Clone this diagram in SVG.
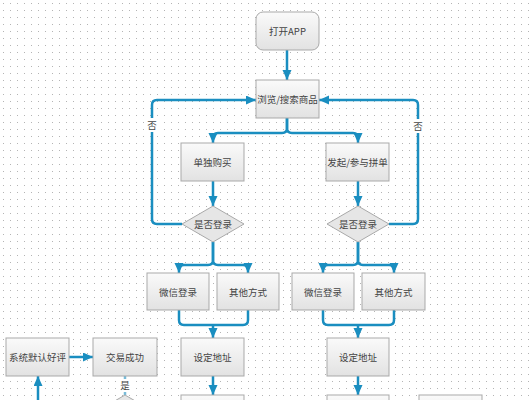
<svg xmlns="http://www.w3.org/2000/svg" width="531" height="400" viewBox="0 0 531 400">
<defs>
<pattern id="dots" width="7" height="7" patternUnits="userSpaceOnUse">
<rect x="3" y="3" width="1" height="1" fill="#b4b4b4"/>
</pattern>
<linearGradient id="boxg" x1="0" y1="0" x2="0" y2="1">
<stop offset="0" stop-color="#fafafa"/>
<stop offset="1" stop-color="#e2e2e2"/>
</linearGradient>
<marker id="arr" markerUnits="userSpaceOnUse" markerWidth="12" markerHeight="10" refX="10" refY="4.5" orient="auto">
<path d="M0,0 L10,4.5 L0,9 z" fill="#1a8ec0"/>
</marker>
</defs>
<style>
.box{fill:url(#boxg);stroke:#a9a9a9;stroke-width:1}
.dia{fill:#e6e6e6;stroke:#a9a9a9;stroke-width:1}
.t{font-family:"Noto Sans CJK SC","Liberation Sans",sans-serif;font-size:9.5px;fill:#444;text-anchor:middle;dominant-baseline:central}
.c{fill:none;stroke:#1a8ec0;stroke-width:2.5}
.a{marker-end:url(#arr)}
.lbl{fill:#fff}
</style>
<rect width="531" height="400" fill="#fff"/>
<rect width="531" height="400" fill="url(#dots)"/>

<g id="connectors">
<path class="c a" d="M287,50 V80"/>
<path class="c a" d="M287,118 V128 Q287,133 282,133 H218 Q213,133 213,138 V143"/>
<path class="c a" d="M287,118 V128 Q287,133 292,133 H353 Q358,133 358,138 V143"/>
<path class="c a" d="M213,181 V206"/>
<path class="c a" d="M358,181 V206"/>
<path class="c a" d="M182,224 H157 Q152,224 152,219 V105 Q152,100 157,100 H256"/>
<path class="c a" d="M389,224 H413 Q418,224 418,219 V105 Q418,100 413,100 H319"/>
<path class="c a" d="M213,242 V260 Q213,265 208,265 H184 Q179,265 179,270 V273"/>
<path class="c a" d="M213,242 V260 Q213,265 218,265 H243 Q248,265 248,270 V273"/>
<path class="c" d="M179,310 V320 Q179,325 184,325 H243 Q248,325 248,320 V310"/>
<path class="c a" d="M213,325 V338"/>
<path class="c a" d="M213,376 V395"/>
<path class="c a" d="M358,242 V260 Q358,265 353,265 H328 Q323,265 323,270 V273"/>
<path class="c a" d="M358,242 V260 Q358,265 363,265 H389 Q394,265 394,270 V273"/>
<path class="c" d="M323,310 V320 Q323,325 328,325 H389 Q394,325 394,320 V310"/>
<path class="c a" d="M358,325 V338"/>
<path class="c a" d="M358,376 V395"/>
<path class="c a" d="M69,357 H93"/>
<path class="c a" d="M38,400 V376"/>
<path class="c" d="M125,395 V376" stroke-width="1.5" opacity="0.6"/>
<rect class="lbl" x="146" y="118" width="12" height="14"/>
<text class="t" x="152" y="125">否</text>
<rect class="lbl" x="412" y="119" width="12" height="14"/>
<text class="t" x="418" y="126">否</text>
<rect class="lbl" x="119" y="379" width="12" height="13"/>
<text class="t" x="125" y="385">是</text>
</g>

<g id="n-open"><rect class="box" x="256" y="12" width="63" height="38" rx="7"/><text class="t" x="287.5" y="31">打开APP</text></g>
<g id="n-browse"><rect class="box" x="256" y="80" width="63" height="38"/><text class="t" x="287.5" y="99">浏览/搜索商品</text></g>
<g id="n-single"><rect class="box" x="181" y="143" width="63" height="38"/><text class="t" x="212.5" y="162">单独购买</text></g>
<g id="n-group"><rect class="box" x="326" y="143" width="63" height="38"/><text class="t" x="357.5" y="162">发起/参与拼单</text></g>
<g id="n-login1"><polygon class="dia" points="213,206 244,224 213,242 182,224"/><text class="t" x="213" y="224">是否登录</text></g>
<g id="n-login2"><polygon class="dia" points="358,206 389,224 358,242 327,224"/><text class="t" x="358" y="224">是否登录</text></g>
<g id="n-wx1"><rect class="box" x="147" y="273" width="62" height="37"/><text class="t" x="178" y="291.5">微信登录</text></g>
<g id="n-oth1"><rect class="box" x="217" y="273" width="62" height="37"/><text class="t" x="248" y="291.5">其他方式</text></g>
<g id="n-wx2"><rect class="box" x="292" y="273" width="62" height="37"/><text class="t" x="323" y="291.5">微信登录</text></g>
<g id="n-oth2"><rect class="box" x="362" y="273" width="63" height="37"/><text class="t" x="393.5" y="291.5">其他方式</text></g>
<g id="n-addr1"><rect class="box" x="181" y="338" width="63" height="38"/><text class="t" x="212.5" y="357">设定地址</text></g>
<g id="n-addr2"><rect class="box" x="327" y="338" width="62" height="38"/><text class="t" x="358" y="357">设定地址</text></g>
<g id="n-default"><rect class="box" x="6" y="338" width="63" height="38"/><text class="t" x="37.5" y="357">系统默认好评</text></g>
<g id="n-success"><rect class="box" x="93" y="338" width="64" height="38"/><text class="t" x="125" y="357">交易成功</text></g>
<g id="n-b1"><rect class="box" x="181" y="395" width="63" height="38"/></g>
<g id="n-b2"><rect class="box" x="327" y="395" width="62" height="38"/></g>
<g id="n-b3"><rect class="box" x="419" y="395" width="63" height="38"/></g>
<g id="n-bd"><polygon class="dia" points="125,395 156,413 125,431 94,413"/></g>
</svg>
